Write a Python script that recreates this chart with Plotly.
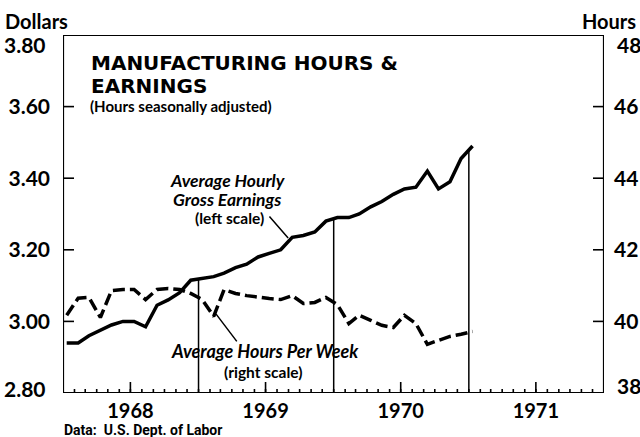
import numpy as np
import pandas as pd
import plotly.graph_objects as go

# ---- data (monthly, Jan 1968 - Jan 1971) ----
months = pd.date_range("1968-01-01", periods=37, freq="MS") + pd.Timedelta(days=10)
earnings = [2.94, 2.94, 2.96, 2.975, 2.99, 3.00, 3.00, 2.985, 3.045, 3.06, 3.08, 3.115,
            3.12, 3.125, 3.135, 3.15, 3.16, 3.18, 3.19, 3.20, 3.235, 3.24, 3.25, 3.28,
            3.29, 3.29, 3.30, 3.32, 3.335, 3.355, 3.37, 3.375, 3.42, 3.37, 3.39, 3.455,
            3.49]
hours = [40.17, 40.65, 40.67, 40.11, 40.86, 40.89, 40.89, 40.61, 40.89, 40.92, 40.89, 40.78,
         40.61, 40.14, 40.89, 40.78, 40.72, 40.67, 40.64, 40.61, 40.72, 40.50, 40.53, 40.67,
         40.47, 39.94, 40.17, 40.03, 39.89, 39.83, 40.17, 39.94, 39.36, 39.47, 39.58, 39.64,
         39.72]
year_boundaries = ["1969-01-01", "1970-01-01", "1971-01-01"]
year_tick_dates = ["1968-07-01", "1969-07-01", "1970-07-01", "1971-07-01"]
year_labels = ["1968", "1969", "1970", "1971"]
left_ticks = [3.00, 3.20, 3.40, 3.60]
left_labels = ["3.00", "3.20", "3.40", "3.60"]
right_ticks = [40, 42, 44, 46]
right_labels = ["40", "42", "44", "46"]
x_range = ["1968-01-01", "1972-01-01"]
y_range = [2.80, 3.80]
y2_range = [38, 48]

NUM_FONT = "Lato, 'Open Sans', sans-serif"
TITLE_FONT = "'DejaVu Sans', sans-serif"

W, H = 640, 437
M = dict(l=63, r=36, t=35, b=44)
plot_w = W - M["l"] - M["r"]
plot_h = H - M["t"] - M["b"]
x0, x1 = pd.Timestamp(x_range[0]), pd.Timestamp(x_range[1])
x_per_px = (x1 - x0) / plot_w
y_per_px = (y_range[1] - y_range[0]) / plot_h

fig = go.Figure()
fig.add_trace(go.Scatter(x=months, y=earnings, mode="lines",
                         line=dict(color="black", width=3.5), xaxis="x", yaxis="y",
                         showlegend=False, hoverinfo="skip"))
fig.add_trace(go.Scatter(x=months, y=hours, mode="lines",
                         line=dict(color="black", width=3.5, dash="12px,5px"),
                         xaxis="x", yaxis="y2", showlegend=False, hoverinfo="skip"))

# drop lines at year boundaries, from the earnings curve to the axis
t_months = months.astype("int64").to_numpy()
for d in year_boundaries:
    tb = pd.Timestamp(d).value
    v = float(np.interp(tb, t_months, earnings))
    fig.add_trace(go.Scatter(x=[d, d], y=[y_range[0], v], mode="lines",
                             line=dict(color="black", width=1.5), xaxis="x", yaxis="y",
                             showlegend=False, hoverinfo="skip"))

def seg_trace(xs, ys, width, yaxis="y"):
    fig.add_trace(go.Scatter(x=xs, y=ys, mode="lines", cliponaxis=False,
                             line=dict(color="black", width=width), xaxis="x",
                             yaxis=yaxis, showlegend=False, hoverinfo="skip"))

# monthly tick marks (short) and mid-year tick marks (tall) along the bottom
tx, ty = [], []
for m in pd.date_range(x_range[0], x_range[1], freq="MS"):
    tx += [m, m, None]
    ty += [y_range[0], y_range[0] + 4 * y_per_px, None]
for d in year_tick_dates:
    tx += [d, d, None]
    ty += [y_range[0], y_range[0] + 11 * y_per_px, None]
seg_trace(tx, ty, 1.6)

# left value ticks
lx, ly = [], []
for v in left_ticks:
    lx += [x0, x0 + 11 * x_per_px, None]
    ly += [v, v, None]
seg_trace(lx, ly, 1.6)
# right value ticks
rx, ry = [], []
for v in right_ticks:
    rx += [x1 - 11 * x_per_px, x1, None]
    ry += [v, v, None]
seg_trace(rx, ry, 1.6, yaxis="y2")

# frame around the plotting area
seg_trace([x0, x1, x1, x0, x0],
          [y_range[0], y_range[0], y_range[1], y_range[1], y_range[0]], 2.2)

ann = []
def txt(text, x, y, size, xanchor="center", font=NUM_FONT, yanchor="middle"):
    ann.append(dict(text=text, x=x, y=y, xref="paper", yref="paper", showarrow=False,
                    xanchor=xanchor, yanchor=yanchor,
                    font=dict(family=font, size=size, color="black")))

txt("<b>Dollars</b>", -0.111, 1.039, 20, xanchor="left")
txt("<b>Hours</b>", 1.063, 1.039, 20, xanchor="right")
txt("<b>MANUFACTURING HOURS &</b>", 0.048, 0.921, 20, xanchor="left", font=TITLE_FONT)
txt("<b>EARNINGS</b>", 0.048, 0.857, 20, xanchor="left", font=TITLE_FONT)
txt("<b>(Hours seasonally adjusted)</b>", 0.046, 0.802, 15, xanchor="left")
txt("<b><i>Average Hourly</i></b>", 0.305, 0.594, 17.5)
txt("<b><i>Gross Earnings</i></b>", 0.303, 0.541, 17.5)
txt("<b>(left scale)</b>", 0.307, 0.489, 15.5)
txt("<b><i>Average Hours Per Week</i></b>", 0.373, 0.117, 18)
txt("<b>(right scale)</b>", 0.370, 0.059, 15.5)
txt("<b>Data:  U.S. Dept. of Labor</b>", -0.002, -0.103, 14, xanchor="left",
    font="'Liberation Sans Narrow', Roboto, sans-serif")

# end tick labels nudged inside the frame
ann.append(dict(text="<b>3.80</b>", x=0, y=3.80, xref="paper", yref="y", showarrow=False,
                xanchor="right", yanchor="middle", xshift=-15, yshift=-9,
                font=dict(family=NUM_FONT, size=21, color="black")))
ann.append(dict(text="<b>2.80</b>", x=0, y=2.80, xref="paper", yref="y", showarrow=False,
                xanchor="right", yanchor="middle", xshift=-15, yshift=5,
                font=dict(family=NUM_FONT, size=21, color="black")))
ann.append(dict(text="<b>48</b>", x=1, y=48, xref="paper", yref="y2", showarrow=False,
                xanchor="left", yanchor="middle", xshift=11, yshift=-9,
                font=dict(family=NUM_FONT, size=21, color="black")))
ann.append(dict(text="<b>38</b>", x=1, y=38, xref="paper", yref="y2", showarrow=False,
                xanchor="left", yanchor="middle", xshift=11, yshift=8,
                font=dict(family=NUM_FONT, size=21, color="black")))

# leader lines
ann.append(dict(text="", x="1969-08-31", y=3.233, xref="x", yref="y", showarrow=True,
                arrowhead=0, arrowwidth=1.5, arrowcolor="black", ax=-20, ay=-23,
                standoff=0, startstandoff=0))
ann.append(dict(text="", x="1969-02-17", y=40.21, xref="x", yref="y2", showarrow=True,
                arrowhead=0, arrowwidth=1.5, arrowcolor="black", ax=22, ay=29,
                standoff=0, startstandoff=0))

fig.update_layout(
    width=W, height=H,
    margin=dict(**M, autoexpand=False),
    paper_bgcolor="white", plot_bgcolor="white",
    showlegend=False,
    annotations=ann,
    xaxis=dict(type="date", range=x_range, automargin=False,
               showline=False, showgrid=False, zeroline=False,
               tickmode="array", tickvals=year_tick_dates, ticktext=year_labels,
               ticks="",
               tickfont=dict(family=NUM_FONT, size=20, color="black", weight="bold"),
               ticklabelstandoff=4),
    yaxis=dict(range=y_range, automargin=False, showline=False,
               showgrid=False, zeroline=False,
               tickmode="array", tickvals=left_ticks, ticktext=left_labels,
               ticks="",
               tickfont=dict(family=NUM_FONT, size=21, color="black", weight="bold"),
               ticklabelstandoff=12),
    yaxis2=dict(range=y2_range, overlaying="y", side="right", automargin=False,
                showline=False, showgrid=False, zeroline=False,
                tickmode="array", tickvals=right_ticks, ticktext=right_labels,
                ticks="",
                tickfont=dict(family=NUM_FONT, size=21, color="black", weight="bold"),
                ticklabelstandoff=9),
)

fig.write_html("out.html", config={"displayModeBar": False},
               post_script="document.body.style.margin='0';")
